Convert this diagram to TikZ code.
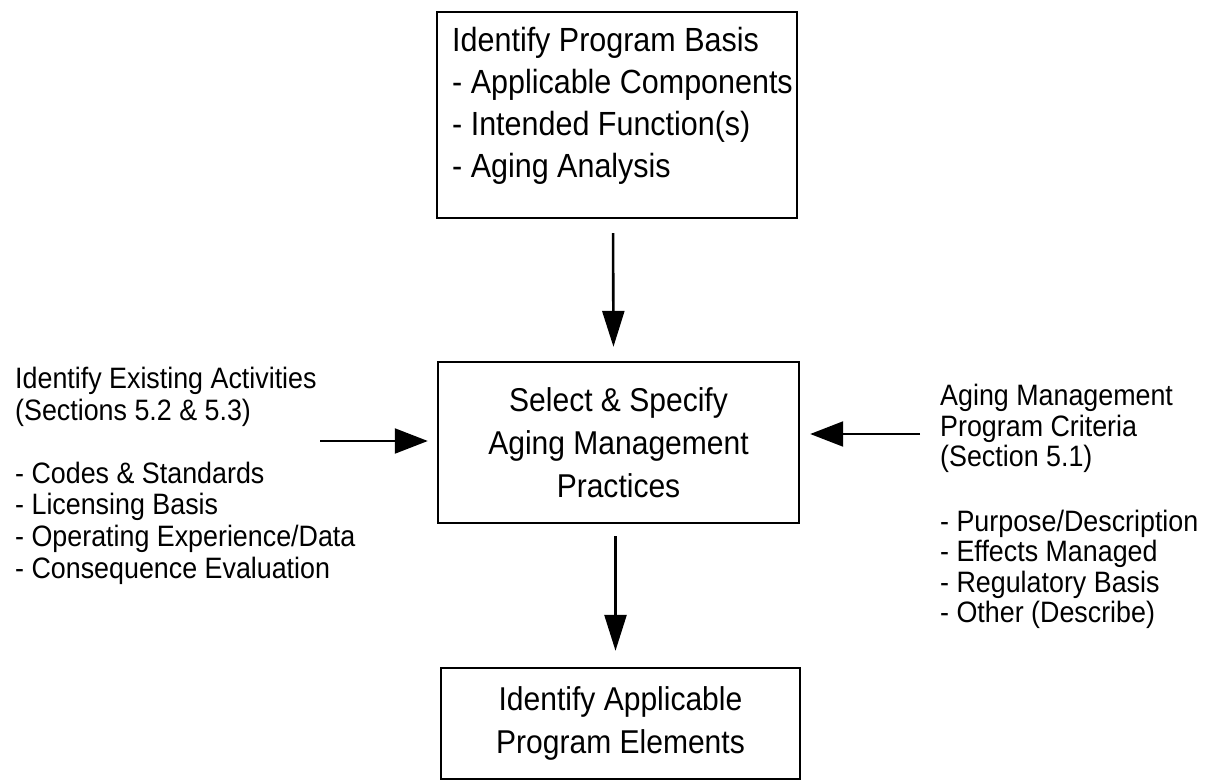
\documentclass[tikz,border=0pt]{standalone}
\usepackage{fontspec}
\setmainfont{Liberation Sans}
\newfontfamily\narrowsans[FakeStretch=0.91]{Liberation Sans}
\usetikzlibrary{arrows.meta}
\begin{document}
\begin{tikzpicture}[x=1pt,y=-1pt,
  boxnode/.style={draw=black, line width=2.4pt, inner sep=0pt},
  boxtext/.style={font=\narrowsans\fontsize{33}{43}\selectfont, align=center, inner sep=0pt},
  sidetext/.style={align=left, inner sep=0pt, anchor=north west},
  varrow/.style={line width=2.6pt, -{Triangle[width=22pt,length=36pt]}},
  harrow/.style={line width=2.2pt, -{Triangle[width=25pt,length=33pt]}}
]
\useasboundingbox (0,0) rectangle (1212,781);
\fill[white] (0,0) rectangle (1212,781);

% top box
\node[boxnode, minimum width=360pt, minimum height=206pt] (tb) at (617,115) {};
\node[font=\narrowsans\fontsize{33.5}{42}\selectfont, align=left, inner sep=0pt, anchor=north west] (tbt) at (452,27.5)
  {Identify Program Basis\\- Applicable Components\\- Intended Function(s)\\- Aging Analysis};

% middle box
\node[boxnode, boxtext, minimum width=361pt, minimum height=161pt] (mb) at (618.5,442.5)
  {Select \& Specify\\Aging Management\\Practices};

% bottom box
\node[boxnode, boxtext, minimum width=359pt, minimum height=111pt] (bb) at (620.5,723.5)
  {Identify Applicable\\Program Elements};

% side texts
\node[sidetext, font=\narrowsans\fontsize{29.5}{31.6}\selectfont] (lt) at (15,367)
  {Identify Existing Activities\\(Sections 5.2 \& 5.3)\\[31.6pt]- Codes \& Standards\\- Licensing Basis\\- Operating Experience/Data\\- Consequence Evaluation};
\node[sidetext, font=\narrowsans\fontsize{29.5}{30.5}\selectfont] (rt) at (940,384)
  {Aging Management\\Program Criteria\\(Section 5.1)\\[34pt]- Purpose/Description\\- Effects Managed\\- Regulatory Basis\\- Other (Describe)};

% connectors
\draw[varrow, shorten <=14pt, shorten >=14pt] ([xshift=-4pt]tb.south) -- ([xshift=-5pt]mb.north);
\draw[varrow, shorten <=12pt, shorten >=16pt] ([xshift=-3pt]mb.south) -- ([xshift=-5pt]bb.north);
\coordinate (la) at (320,441);
\coordinate (ra) at (920,434);
\draw[harrow, shorten >=9pt] (la) -- (la -| mb.west);
\draw[harrow, shorten >=10pt] (ra) -- (ra -| mb.east);
\end{tikzpicture}
\end{document}
